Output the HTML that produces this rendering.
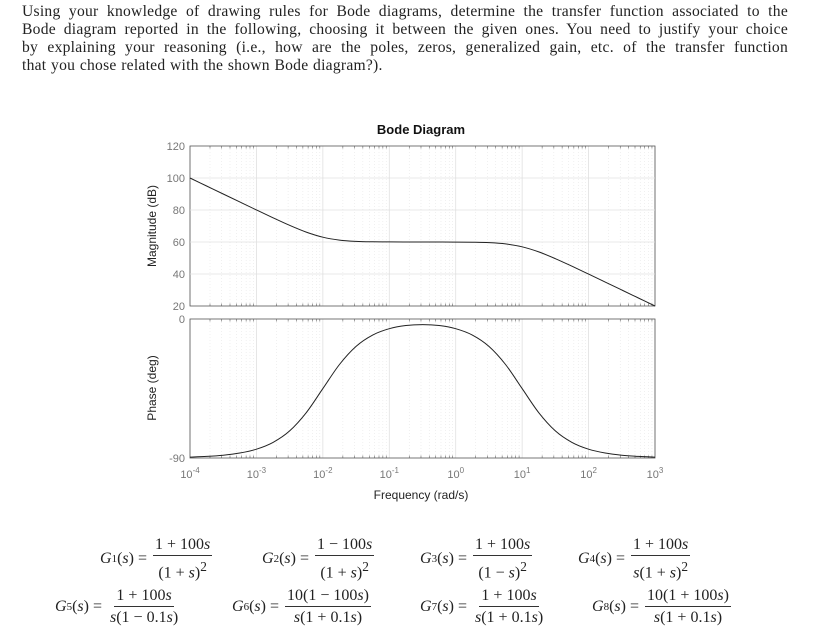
<!DOCTYPE html>
<html><head><meta charset="utf-8"><style>
body{margin:0;width:836px;height:644px;background:#fff;position:relative;overflow:hidden;font-family:"Liberation Serif",serif}
.ql{position:absolute;left:22px;width:766px;font-size:15.6px;line-height:18px;text-align:justify;text-align-last:justify;color:#222;white-space:nowrap;letter-spacing:0.25px;word-spacing:0.5px}
.f{position:absolute;font-family:"Liberation Serif",serif;font-size:16px;color:#222;display:flex;align-items:center;white-space:nowrap}
.fr{display:inline-flex;flex-direction:column;align-items:center;margin-left:6px}
.fr span{padding:0 2px;line-height:21px}
.fr .n{border-bottom:1px solid #333}
i{font-style:italic}
sub{font-size:11px}
</style></head><body>
<div>
<div class="ql" style="top:3px">Using your knowledge of drawing rules for Bode diagrams, determine the transfer function associated to the</div>
<div class="ql" style="top:21px">Bode diagram reported in the following, choosing it between the given ones. You need to justify your choice</div>
<div class="ql" style="top:39px">by explaining your reasoning (i.e., how are the poles, zeros, generalized gain, etc. of the transfer function</div>
<div class="ql" style="top:57px;text-align-last:left">that you chose related with the shown Bode diagram?).</div>
</div>
<svg id="c" width="836" height="644" style="position:absolute;left:0;top:0"></svg>

<div class="f" style="left:100px;top:534px"><i>G</i><sub>1</sub>(<i>s</i>) =<span class="fr"><span class="n">1 + 100<i>s</i></span><span>(1 + <i>s</i>)<sup>2</sup></span></span></div>
<div class="f" style="left:262px;top:534px"><i>G</i><sub>2</sub>(<i>s</i>) =<span class="fr"><span class="n">1 − 100<i>s</i></span><span>(1 + <i>s</i>)<sup>2</sup></span></span></div>
<div class="f" style="left:420px;top:534px"><i>G</i><sub>3</sub>(<i>s</i>) =<span class="fr"><span class="n">1 + 100<i>s</i></span><span>(1 − <i>s</i>)<sup>2</sup></span></span></div>
<div class="f" style="left:578px;top:534px"><i>G</i><sub>4</sub>(<i>s</i>) =<span class="fr"><span class="n">1 + 100<i>s</i></span><span><i>s</i>(1 + <i>s</i>)<sup>2</sup></span></span></div>
<div class="f" style="left:55px;top:585px"><i>G</i><sub>5</sub>(<i>s</i>) =<span class="fr"><span class="n">1 + 100<i>s</i></span><span><i>s</i>(1 − 0.1<i>s</i>)</span></span></div>
<div class="f" style="left:232px;top:585px"><i>G</i><sub>6</sub>(<i>s</i>) =<span class="fr"><span class="n">10(1 − 100<i>s</i>)</span><span><i>s</i>(1 + 0.1<i>s</i>)</span></span></div>
<div class="f" style="left:420px;top:585px"><i>G</i><sub>7</sub>(<i>s</i>) =<span class="fr"><span class="n">1 + 100<i>s</i></span><span><i>s</i>(1 + 0.1<i>s</i>)</span></span></div>
<div class="f" style="left:592px;top:585px"><i>G</i><sub>8</sub>(<i>s</i>) =<span class="fr"><span class="n">10(1 + 100<i>s</i>)</span><span><i>s</i>(1 + 0.1<i>s</i>)</span></span></div>

<script>
const logFreq=[-4,-3.75,-3.5,-3.25,-3,-2.75,-2.5,-2.25,-2,-1.75,-1.5,-1.25,-1,-0.75,-0.5,-0.25,0,0.25,0.5,0.75,1,1.25,1.5,1.75,2,2.25,2.5,2.75,3];
const magDb=[100,95,90,85.01,80.04,75.14,70.41,66.19,63.01,61.19,60.41,60.13,60.04,60.01,60,59.99,59.96,59.86,59.59,58.81,56.99,53.81,49.59,44.87,39.96,34.99,30,25,20];
const phaseDeg=[-89.43,-88.98,-88.19,-86.78,-84.29,-79.9,-72.45,-60.65,-45.06,-29.46,-17.73,-10.4,-6.28,-4.24,-3.62,-4.24,-6.28,-10.4,-17.73,-29.46,-45.06,-60.65,-72.45,-79.9,-84.29,-86.78,-88.19,-88.98,-89.43];
const magTicks=[120,100,80,60,40,20];
const phaseTicks=[0,-90];
const decades=[-4,-3,-2,-1,0,1,2,3];
const X0=190,X1=655,M0=146,M1=306,P0=319,P1=458;
const x=l=>X0+(l+4)/7*(X1-X0);
const ym=v=>M1-(v-20)/100*(M1-M0);
const yp=v=>P0+(0-v)/90*(P1-P0);
const svg=document.getElementById('c');const NS='http://www.w3.org/2000/svg';
function el(t,a,p){const e=document.createElementNS(NS,t);for(const k in a)e.setAttribute(k,a[k]);(p||svg).appendChild(e);return e;}
function txt(s,a){const e=el('text',a);e.textContent=s;return e;}
function smooth(pts){let d='M'+pts[0][0]+','+pts[0][1];
 for(let i=0;i<pts.length-1;i++){const p0=pts[i-1]||pts[i],p1=pts[i],p2=pts[i+1],p3=pts[i+2]||p2;
  d+=' C'+(p1[0]+(p2[0]-p0[0])/6)+','+(p1[1]+(p2[1]-p0[1])/6)+' '+(p2[0]-(p3[0]-p1[0])/6)+','+(p2[1]-(p3[1]-p1[1])/6)+' '+p2[0]+','+p2[1];}
 return d;}
const lf='Liberation Sans, sans-serif';
[[M0,M1,'magnitude'],[P0,P1,'phase']].forEach(([t,b,n])=>{
 const g=el('g',{});
 decades.forEach(d=>{ if(d<3) for(let k=2;k<10;k++){const xx=x(d+Math.log10(k));el('line',{x1:xx,x2:xx,y1:t,y2:b,stroke:'#e6e6e6','stroke-width':0.6,'stroke-dasharray':'1,2'},g);
   el('line',{x1:xx,x2:xx,y1:t,y2:t+2.5,stroke:'#666','stroke-width':0.6},g);el('line',{x1:xx,x2:xx,y1:b,y2:b-2.5,stroke:'#666','stroke-width':0.6},g);}
   el('line',{x1:x(d),x2:x(d),y1:t,y2:b,stroke:'#e0e0e0','stroke-width':0.8},g);});
 el('rect',{x:X0,y:t,width:X1-X0,height:b-t,fill:'none',stroke:'#555','stroke-width':0.8},g);
});
magTicks.forEach(v=>{if(v<120&&v>20)el('line',{x1:X0,x2:X1,y1:ym(v),y2:ym(v),stroke:'#e0e0e0','stroke-width':0.8});
 const t=txt(v,{x:185,y:ym(v)+4,'text-anchor':'end','font-size':11,fill:'#777','font-family':lf});
 });
phaseTicks.forEach(v=>{const t=txt(v,{x:185,y:yp(v)+4,'text-anchor':'end','font-size':11,fill:'#777','font-family':lf});
 });
decades.forEach(d=>{const t=el('text',{x:x(d),y:478,'text-anchor':'middle','font-size':11,fill:'#777','font-family':lf});
 t.textContent='10';const s=el('tspan',{dy:-5,'font-size':8},t);s.textContent=d;
 });
const mp=el('path',{d:smooth(logFreq.map((l,i)=>[x(l),ym(magDb[i])])),fill:'none',stroke:'#222','stroke-width':1});

const pp=el('path',{d:smooth(logFreq.map((l,i)=>[x(l),yp(phaseDeg[i])])),fill:'none',stroke:'#222','stroke-width':1});

let t=txt('Bode Diagram',{x:421,y:134,'text-anchor':'middle','font-size':13,'font-weight':'bold',fill:'#111','font-family':lf});

t=txt('Frequency  (rad/s)',{x:421,y:499,'text-anchor':'middle','font-size':12,fill:'#222','font-family':lf});

t=txt('Magnitude (dB)',{x:0,y:0,transform:'translate(156,226) rotate(-90)','text-anchor':'middle','font-size':12,fill:'#222','font-family':lf});

t=txt('Phase (deg)',{x:0,y:0,transform:'translate(156,388) rotate(-90)','text-anchor':'middle','font-size':12,fill:'#222','font-family':lf});

</script>
</body></html>
